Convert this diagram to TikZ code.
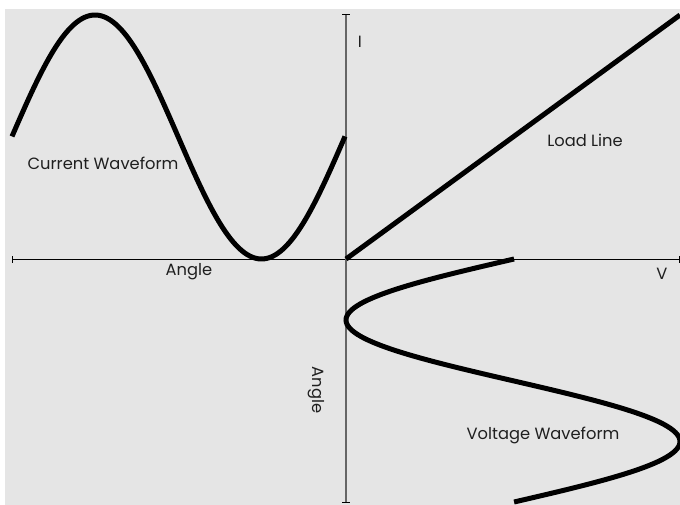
\documentclass[tikz,border=0pt]{standalone}
\usepackage{fontspec}
\setmainfont{Poppins}
\begin{document}
\begin{tikzpicture}[x=1pt,y=-1pt,
  lbl/.style={font=\fontsize{16.3}{18}\selectfont, text=black!88, inner sep=0pt},
  wave/.style={line width=5pt, black},
  axis/.style={line width=1pt, black}]
\useasboundingbox (0,0) rectangle (680,505);
\fill[white] (0,0) rectangle (680,505);
\fill[black!10] (5,9) rectangle (680,505);
% axes
\coordinate (xl) at (12,259);
\coordinate (xr) at (679,259);
\coordinate (yt) at (346,15);
\coordinate (yb) at (346,502);
\coordinate (o) at (346,259);
\draw[axis] (xl) -- (xr);
\draw[axis] ([yshift=-3.5]xl) -- ([yshift=3.5]xl);
\draw[axis] ([yshift=-3.5]xr) -- ([yshift=3.5]xr);
\draw[line width=1.6pt, black!60] (yt) -- (yb);
\draw[axis] ([xshift=-4]yt) -- ([xshift=4]yt);
\draw[axis] ([xshift=-4]yb) -- ([xshift=4]yb);
% load line
\coordinate (ll) at (680,15);
\draw[wave] (o) -- (ll);
% current waveform
\draw[wave] plot[domain=12:345, samples=120, smooth] (\x, {137-122*cos((\x-95)/333*360)});
% voltage waveform
\draw[wave] plot[domain=259:502, samples=120, smooth] ({513-167*cos((\x-320)/243*360)}, \x);
% labels
\node[lbl] (cw) at (103,163) {Current Waveform};
\node[lbl] (ld) at (585,140) {Load Line};
\node[lbl] (ah) at (189,272) {Angle};
\node[lbl] (v) at (662,274) {V};
\node[lbl] (i) at (360,42) {I};
\node[lbl, rotate=-90] (av) at (316,390) {Angle};
\node[lbl] (vw) at (543,435) {Voltage Waveform};
\end{tikzpicture}
\end{document}
